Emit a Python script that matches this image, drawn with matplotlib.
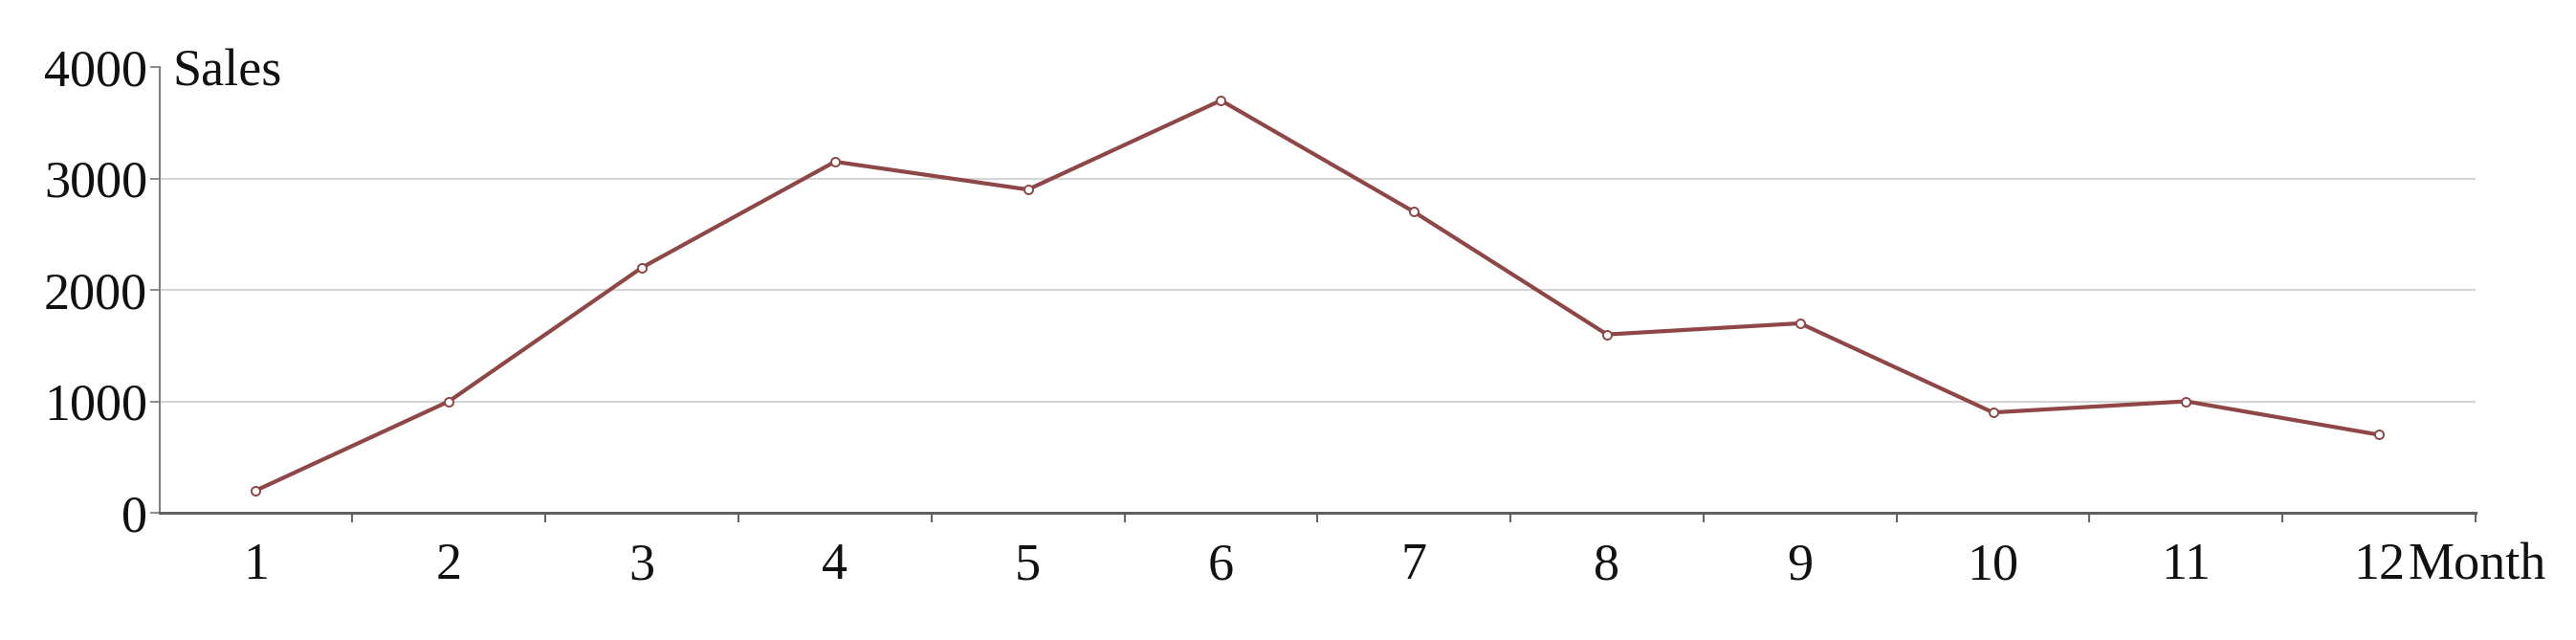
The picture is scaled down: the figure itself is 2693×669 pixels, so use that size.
import matplotlib
matplotlib.use("Agg")
import matplotlib.pyplot as plt
import matplotlib.transforms as mtransforms

months = ["1", "2", "3", "4", "5", "6", "7", "8", "9", "10", "11", "12"]
sales = [200, 1000, 2200, 3150, 2900, 3700, 2700, 1600, 1700, 900, 1000, 700]
yticks = [0, 1000, 2000, 3000, 4000]

plt.rcParams['font.family'] = ['Liberation Serif', 'DejaVu Serif']

W, H = 2693, 669
fig = plt.figure(figsize=(W / 100, H / 100), dpi=100)
ax = fig.add_axes([166.6 / W, 1 - 536 / H, (2588 - 166.6) / W, (536 - 70) / H])

x = list(range(1, len(months) + 1))
line_color = '#8e4646'
ax.plot(x, sales, color=line_color, lw=3.0, marker='o', markersize=6.5,
        markerfacecolor='white', markeredgecolor=line_color, markeredgewidth=1.4,
        zorder=3, clip_on=False)

ax.set_xlim(0.5, len(months) + 0.5)
ax.set_ylim(0, 4000)
ax.set_yticks(yticks)
ax.set_yticklabels([str(v) for v in yticks])
ax.set_xticks(x)
ax.set_xticklabels(months)
ax.set_xticks([i + 0.5 for i in x], minor=True)

ax.tick_params(axis='x', which='major', length=0, pad=22, labelsize=39, colors='#111111')
ax.tick_params(axis='x', which='minor', length=7, width=1.5, color='#666666', direction='out')
ax.tick_params(axis='y', which='major', length=7, width=1.2, color='#777777', pad=2,
               labelsize=39, labelcolor='#111111')

for s in ['top', 'right']:
    ax.spines[s].set_visible(False)
ax.spines['left'].set_color('#808080')
ax.spines['left'].set_linewidth(1.5)
ax.spines['bottom'].set_color('#606060')
ax.spines['bottom'].set_linewidth(2.2)

for v in yticks[1:-1]:
    ax.axhline(v, color='#d6d6d6', lw=1.6, zorder=1)

ax.text(0.0055, 4000, 'Sales', transform=mtransforms.blended_transform_factory(ax.transAxes, ax.transData),
        ha='left', va='center_baseline', fontsize=39, color='#111111')

trans = mtransforms.blended_transform_factory(ax.transData, ax.transAxes)
ax.text(12.15, -30.6 / 466, 'Month', transform=trans, ha='left', va='top', fontsize=39, color='#111111')

fig.savefig('out.png', dpi=100, facecolor='white')
